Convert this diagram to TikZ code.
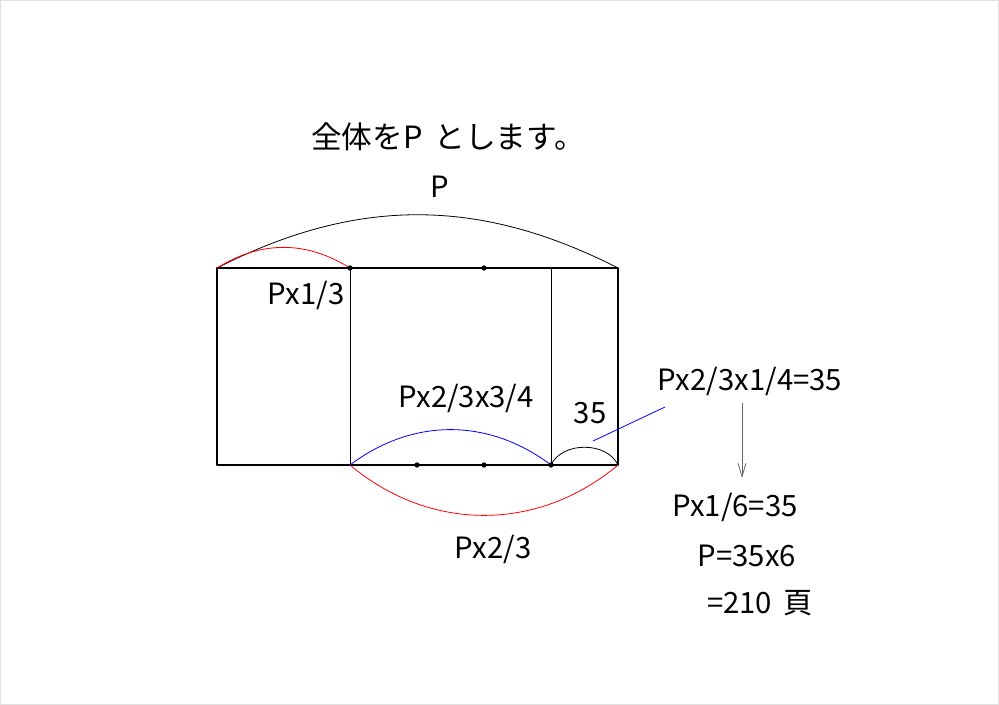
\documentclass[tikz,border=0pt]{standalone}
\usepackage{fontspec}
\setmainfont{Noto Sans CJK JP}
\usetikzlibrary{arrows.meta}
\begin{document}
\begin{tikzpicture}[>={Straight Barb[length=10bp,width=6bp]},line join=bevel,
    lbl/.style={inner sep=0pt,font=\fontsize{22bp}{26bp}\selectfont},
    dot/.style={circle,fill,inner sep=0pt,minimum size=4bp}]
    \useasboundingbox (0bp,0bp) rectangle (749.25bp,528.75bp);
    \draw [black!12,line width=0.75bp] (0.4bp,0.4bp) rectangle (748.85bp,528.35bp);
    %%
    \coordinate (tl) at (162.75bp,327.75bp);
    \coordinate (tr) at (463.5bp,327.75bp);
    \coordinate (bl) at (162.75bp,180.0bp);
    \coordinate (br) at (463.5bp,180.0bp);
    \coordinate (t1) at (262.5bp,327.75bp);
    \coordinate (t2) at (363.0bp,327.75bp);
    \coordinate (t3) at (413.25bp,327.75bp);
    \coordinate (b1) at (262.5bp,180.0bp);
    \coordinate (b2) at (312.75bp,180.0bp);
    \coordinate (b3) at (363.0bp,180.0bp);
    \coordinate (b4) at (413.25bp,180.0bp);
    \coordinate (l1) at (444.75bp,198.0bp);
    \coordinate (l2) at (498.75bp,223.5bp);
    \coordinate (a1) at (556.5bp,226.5bp);
    \coordinate (a2) at (556.5bp,170.25bp);
    %
    \draw [line width=0.9bp] (tl) rectangle (br);
    \draw [line width=0.75bp] (t1) -- (b1);
    \draw [line width=0.6bp] (t3) -- (b4);
    \draw [line width=0.6bp] (tl) to[bend left=27] (tr);
    \draw [red,line width=0.6bp] (tl) to[bend left=32] (t1);
    \draw [red,line width=0.6bp] (b1) to[bend right=40] (br);
    \draw [blue,line width=0.6bp] (b1) to[bend left=37] (b4);
    \draw [line width=0.6bp] (b4) to[bend left=65] (br);
    \draw [blue,line width=0.6bp] (l1) -- (l2);
    \draw [->,black!60,line width=0.6bp] (a1) -- (a2);
    %
    \node (d1) at (t1) [dot] {};
    \node (d2) at (t2) [dot] {};
    \node (d3) at (b2) [dot] {};
    \node (d4) at (b3) [dot] {};
    \node (d5) at (b4) [dot] {};
    %
    \node (title) at (336.0bp,426.0bp) [lbl,font=\fontsize{23bp}{26bp}\selectfont] {全体をP\, とします。};
    \node (p) at (330.0bp,388.5bp) [lbl] {P};
    \node (third) at (229.5bp,307.5bp) [lbl] {Px1/3};
    \node (blue) at (349.5bp,230.25bp) [lbl] {Px2/3x3/4};
    \node (n35) at (442.5bp,219.0bp) [lbl] {35};
    \node (eq1) at (562.5bp,243.0bp) [lbl] {Px2/3x1/4=35};
    \node (eq2) at (551.25bp,148.5bp) [lbl] {Px1/6=35};
    \node (eq3) at (560.25bp,111.75bp) [lbl] {P=35x6};
    \node (eq4) at (570.0bp,76.5bp) [lbl] {=210\, 頁};
    \node (red) at (369.75bp,117.0bp) [lbl] {Px2/3};
    %
\end{tikzpicture}
\end{document}
